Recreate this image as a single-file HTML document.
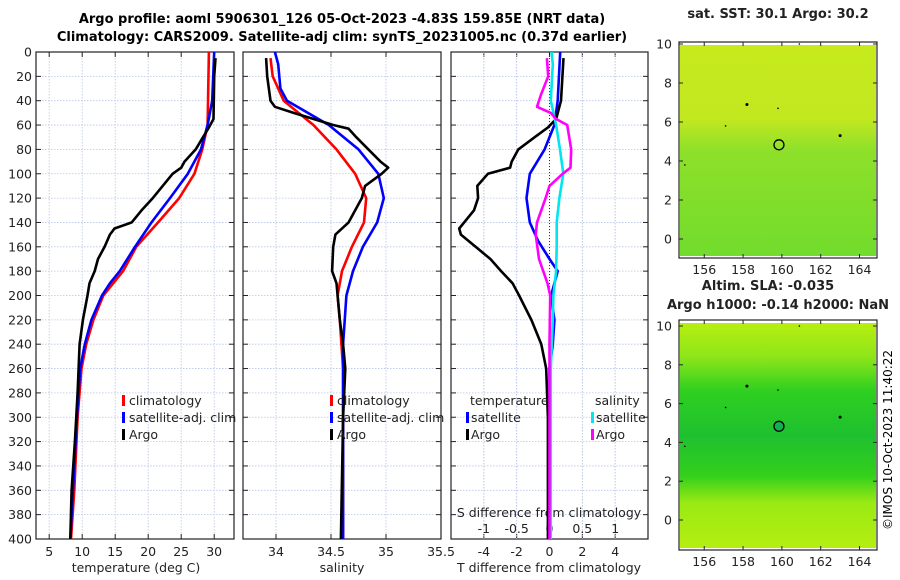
<!DOCTYPE html>
<html><head><meta charset="utf-8"><style>
body{margin:0;background:#fff;}
svg{display:block;font-family:"DejaVu Sans","Liberation Sans",sans-serif;}
</style></head><body>
<svg id="fig" width="900" height="580" viewBox="0 0 900 580">
<defs>
<linearGradient id="sstg" x1="0" y1="0" x2="0" y2="1">
<stop offset="0" stop-color="#c6ea1c"/><stop offset="0.35" stop-color="#c2e820"/><stop offset="0.5" stop-color="#8ee02a"/><stop offset="1" stop-color="#72dc2c"/></linearGradient>
<linearGradient id="slag" x1="0" y1="0" x2="0" y2="1">
<stop offset="0" stop-color="#b8ee10"/><stop offset="0.15" stop-color="#8ee61a"/><stop offset="0.3" stop-color="#2fd020"/><stop offset="0.5" stop-color="#1ec030"/><stop offset="0.68" stop-color="#34d01c"/><stop offset="0.8" stop-color="#9aea14"/><stop offset="1" stop-color="#b4ee10"/></linearGradient>
</defs>
<text x="342" y="23" text-anchor="middle" font-size="13" font-weight="bold">Argo profile: aoml 5906301_126 05-Oct-2023 -4.83S 159.85E (NRT data)</text>
<text x="342" y="41" text-anchor="middle" font-size="13" font-weight="bold">Climatology: CARS2009. Satellite-adj clim: synTS_20231005.nc (0.37d earlier)</text>
<g id="p1"></g>
<g id="p2"></g>
<g id="p3"></g>
<g id="maps"></g>
<text transform="translate(892,440) rotate(-90)" text-anchor="middle" font-size="12">©IMOS 10-Oct-2023 11:40:22</text>
</svg>
<script>
// depth arrays and series
const tClimD=[0,60,80,100,120,140,160,180,200,220,240,260,300,360,400];
const tClimV=[29.2,29,28.2,27,24.7,21.5,18.2,16.2,13.2,11.7,10.6,9.9,9.3,8.8,8.3];
const tSatD=[0,40,60,80,100,120,140,160,180,190,200,220,240,260,300,400];
const tSatV=[30,29.7,29,28,26,23.3,20.5,18,15.7,14.2,13,11.4,10.4,9.7,9.2,8.2];
const tArgoD=[5,20,55,62,70,80,90,95,100,110,120,130,140,145,150,160,170,180,190,200,220,240,280,320,360,400];
const tArgoV=[30.2,30,29.9,29.2,28.3,27.2,25.5,25,23.7,22.2,20.7,19,17.5,14.9,14.2,13.4,12.4,11.9,11.1,10.8,10.1,9.6,9.3,8.9,8.4,8.2];
const sClimD=[5,20,40,60,80,100,120,140,160,180,200,220,260,400];
const sClimV=[33.95,33.97,34.07,34.34,34.55,34.72,34.82,34.8,34.69,34.6,34.56,34.58,34.61,34.61];
const sSatD=[0,10,30,40,60,80,100,120,140,160,180,200,240,400];
const sSatV=[33.99,34.02,34.04,34.1,34.48,34.75,34.93,34.98,34.92,34.79,34.7,34.64,34.61,34.61];
const sArgoD=[5,20,40,45,50,60,63,70,80,90,95,100,110,120,140,150,160,180,190,220,240,260,300,400];
const sArgoV=[33.91,33.92,33.95,33.99,34.16,34.52,34.66,34.73,34.84,34.95,35.02,34.96,34.81,34.78,34.66,34.54,34.52,34.51,34.55,34.58,34.61,34.63,34.61,34.59];
const dTSatD=[0,40,60,80,100,120,140,155,170,180,200,220,240,260,400];
const dTSatV=[0.65,0.5,0.3,-0.3,-1.2,-1.4,-1.2,-0.7,0,0.5,0.1,0.3,0.2,0,0];
const dTArgoD=[5,40,55,62,70,80,90,95,100,110,120,130,145,150,160,170,180,190,200,220,240,260,300,400];
const dTArgoV=[0.85,0.7,0.4,-0.1,-0.9,-1.9,-2.3,-2.4,-3.75,-4.4,-4.35,-4.6,-5.5,-5.4,-4.5,-3.6,-2.95,-2.25,-1.85,-1.1,-0.5,-0.2,-0.1,-0.1];
const dSSatD=[0,10,40,60,80,100,120,140,160,180,200,220,260,400];
const dSSatV=[0.03,0.05,0.02,0.1,0.16,0.21,0.15,0.11,0.11,0.1,0.06,0.05,0.02,0.02];
const dSArgoD=[5,20,35,45,50,55,60,70,80,95,100,110,120,140,150,170,190,200,240,400];
const dSArgoV=[-0.04,-0.02,-0.13,-0.19,0.02,0.1,0.27,0.3,0.33,0.32,0.2,0,-0.06,-0.19,-0.21,-0.16,-0.03,0.01,0,0];
const depthTicks=[0,20,40,60,80,100,120,140,160,180,200,220,240,260,280,300,320,340,360,380,400];
const tTicks=[5,10,15,20,25,30];
const sTicks=[34,34.5,35,35.5];
const sTickLabels=["34","34.5","35","35.5"];
const dTTicks=[-4,-2,0,2,4];
const dSTicks=[-1,-0.5,0,0.5,1];
const dSTickLabels=["-1","-0.5","0","0.5","1"];
const lonTicks=[156,158,160,162,164];
const latTicks=[0,2,4,6,8,10];

const NS='http://www.w3.org/2000/svg';
function mk(parent,tag,attrs,text){const e=document.createElementNS(NS,tag);for(const k in attrs)e.setAttribute(k,attrs[k]);if(text!==undefined)e.textContent=text;parent.appendChild(e);return e;}
const Y0=52,Y1=539;
const yD=d=>Y0+(Y1-Y0)*d/400;
function xs(x0,x1,v0,v1){return v=>x0+(x1-x0)*(v-v0)/(v1-v0);}

function panel(g,x0,x1,xf,vt,showY){
  depthTicks.forEach(d=>{const l=mk(g,'line',{x1:x0,x2:x1,y1:yD(d),y2:yD(d),stroke:'#b8c4e8','stroke-width':0.8,'stroke-dasharray':'1.5,1.5'});
    
    mk(g,'line',{x1:x0,x2:x0+5,y1:yD(d),y2:yD(d),stroke:'#222'});mk(g,'line',{x1:x1-5,x2:x1,y1:yD(d),y2:yD(d),stroke:'#222'});
    if(showY){const t=mk(g,'text',{x:x0-4,y:yD(d)+4.5,'text-anchor':'end','font-size':12.5,fill:'#222'},String(d));}
  });
  vt.forEach(v=>{const l=mk(g,'line',{x1:xf(v),x2:xf(v),y1:Y0,y2:Y1,stroke:'#b8c4e8','stroke-width':0.8,'stroke-dasharray':'1.5,1.5'});
    
    mk(g,'line',{x1:xf(v),x2:xf(v),y1:Y1,y2:Y1-5,stroke:'#222'});mk(g,'line',{x1:xf(v),x2:xf(v),y1:Y0,y2:Y0+5,stroke:'#222'});});
  const r=mk(g,'rect',{x:x0,y:Y0,width:x1-x0,height:Y1-Y0,fill:'none',stroke:'#222','stroke-width':1.2});
  
}
function line(g,D,V,xf,color,name){
  const pts=D.map((d,i)=>xf(V[i]).toFixed(1)+','+yD(d).toFixed(1)).join(' ');
  const p=mk(g,'polyline',{points:pts,fill:'none',stroke:color,'stroke-width':2.6,'stroke-linejoin':'round'});
  
}
function lab(g,x,y,t,name,anchor,size){const e=mk(g,'text',{x:x,y:y,'text-anchor':anchor||'middle','font-size':size||12.5,fill:'#222'},t);return e;}
function legMark(g,x,y,color,name){const e=mk(g,'rect',{x:x,y:y-10,width:3,height:11,fill:color});}

// Panel 1
const g1=document.getElementById('p1');
const xT=xs(36,234,3,33);
panel(g1,36,234,xT,tTicks,true);
tTicks.forEach(v=>lab(g1,xT(v),556,String(v),'x-tick-label'));
lab(g1,136,572,'temperature (deg C)','x-axis-title');
line(g1,tClimD,tClimV,xT,'#ff0000','temp-climatology-line');
line(g1,tSatD,tSatV,xT,'#0000ff','temp-satellite-line');
line(g1,tArgoD,tArgoV,xT,'#000000','temp-argo-line');
legMark(g1,122,405,'#ff0000','legend-climatology-marker');lab(g1,129,405,'climatology','legend-climatology','start');
legMark(g1,122,422,'#0000ff','legend-satellite-marker');lab(g1,129,422,'satellite-adj. clim','legend-satellite','start');
legMark(g1,122,439,'#000000','legend-argo-marker');lab(g1,129,439,'Argo','legend-argo','start');

// Panel 2
const g2=document.getElementById('p2');
const xS=xs(243,441,33.7,35.5);
panel(g2,243,441,xS,sTicks.slice(0,3),false);
sTicks.forEach((v,i)=>lab(g2,xS(v),556,sTickLabels[i],'x-tick-label'));
lab(g2,342,572,'salinity','x-axis-title');
line(g2,sClimD,sClimV,xS,'#ff0000','sal-climatology-line');
line(g2,sSatD,sSatV,xS,'#0000ff','sal-satellite-line');
line(g2,sArgoD,sArgoV,xS,'#000000','sal-argo-line');
legMark(g2,330,405,'#ff0000','legend-climatology-marker');lab(g2,337,405,'climatology','legend-climatology','start');
legMark(g2,330,422,'#0000ff','legend-satellite-marker');lab(g2,337,422,'satellite-adj. clim','legend-satellite','start');
legMark(g2,330,439,'#000000','legend-argo-marker');lab(g2,337,439,'Argo','legend-argo','start');

// Panel 3
const g3=document.getElementById('p3');
const xdT=xs(451,648,-6,6), xdS=xs(451,648,-1.5,1.5);
panel(g3,451,648,xdT,dTTicks,false);
[-1,-0.5,0.5,1].forEach(v=>{const l=mk(g3,'line',{x1:xdS(v),x2:xdS(v),y1:Y0,y2:Y1,stroke:'#b8c4e8','stroke-width':0.8,'stroke-dasharray':'1.5,1.5'});});
const zl=mk(g3,'line',{x1:xdT(0),x2:xdT(0),y1:Y0,y2:Y1,stroke:'#333','stroke-width':1,'stroke-dasharray':'1,2'});

dTTicks.forEach(v=>lab(g3,xdT(v),556,String(v),'x-tick-label'));
lab(g3,549,572,'T difference from climatology','x-axis-title');
lab(g3,549,517,'S difference from climatology','s-axis-title');
dSTicks.forEach((v,i)=>lab(g3,xdS(v),533,dSTickLabels[i],'s-tick-label'));
line(g3,dTSatD,dTSatV,xdT,'#0000ff','dT-satellite-line');
line(g3,dTArgoD,dTArgoV,xdT,'#000000','dT-argo-line');
line(g3,dSSatD,dSSatV,xdS,'#00e5ee','dS-satellite-line');
line(g3,dSArgoD,dSArgoV,xdS,'#ff00ff','dS-argo-line');
lab(g3,470,405,'temperature','legend-temperature-header','start');
legMark(g3,466,422,'#0000ff','legend-t-satellite-marker');lab(g3,471,422,'satellite','legend-t-satellite','start');
legMark(g3,466,439,'#000000','legend-t-argo-marker');lab(g3,471,439,'Argo','legend-t-argo','start');
lab(g3,595,405,'salinity','legend-salinity-header','start');
legMark(g3,591,422,'#00e5ee','legend-s-satellite-marker');lab(g3,596,422,'satellite','legend-s-satellite','start');
legMark(g3,591,439,'#ff00ff','legend-s-argo-marker');lab(g3,596,439,'Argo','legend-s-argo','start');

// Maps
const gm=document.getElementById('maps');
function map(top,bottom,lat10y,lat0y,fill,name,circleFill){
  const lx=xs(679,877,154.7,164.9);
  const ly=v=>lat0y+(lat10y-lat0y)*v/10;
  const g=mk(gm,'g',{});
  const im=mk(g,'rect',{x:680,y:top+3,width:196,height:bottom-top-5,fill:fill});
  const fr=mk(g,'rect',{x:679,y:top,width:198,height:bottom-top,fill:'none',stroke:'#222','stroke-width':1.2});
  lonTicks.forEach(v=>{mk(g,'line',{x1:lx(v),x2:lx(v),y1:bottom,y2:bottom-4,stroke:'#222'});mk(g,'line',{x1:lx(v),x2:lx(v),y1:top,y2:top+4,stroke:'#222'});lab(g,lx(v),bottom+16,String(v),'lon-tick-label');});
  latTicks.forEach(v=>{mk(g,'line',{x1:679,x2:683,y1:ly(v),y2:ly(v),stroke:'#222'});mk(g,'line',{x1:873,x2:877,y1:ly(v),y2:ly(v),stroke:'#222'});lab(g,672,ly(v)+4.5,String(v),'lat-tick-label','end');});
  const c=mk(g,'circle',{cx:lx(159.85),cy:ly(4.83),r:5,fill:circleFill,stroke:'#000','stroke-width':1.3});
  [[158.2,6.9,1.5],[163,5.3,1.5],[157.1,5.8,0.8],[159.8,6.7,0.8],[155,3.8,0.8],[160.9,10,0.8]].forEach(p=>{const d=mk(g,'circle',{cx:lx(p[0]),cy:ly(p[1]),r:p[2],fill:'#000'});});
}
lab(gm,778,18,'sat. SST: 30.1 Argo: 30.2','sst-map-title',undefined,13).setAttribute('font-weight','bold');
map(42,258,44,239,'url(#sstg)','sst-map','none');
lab(gm,768,290,'Altim. SLA: -0.035','sla-map-title-1',undefined,13).setAttribute('font-weight','bold');
lab(gm,778,309,'Argo h1000: -0.14 h2000: NaN','sla-map-title-2',undefined,13).setAttribute('font-weight','bold');
map(320,550,326,520,'url(#slag)','sla-map','#14b050');
</script>
</body></html>
